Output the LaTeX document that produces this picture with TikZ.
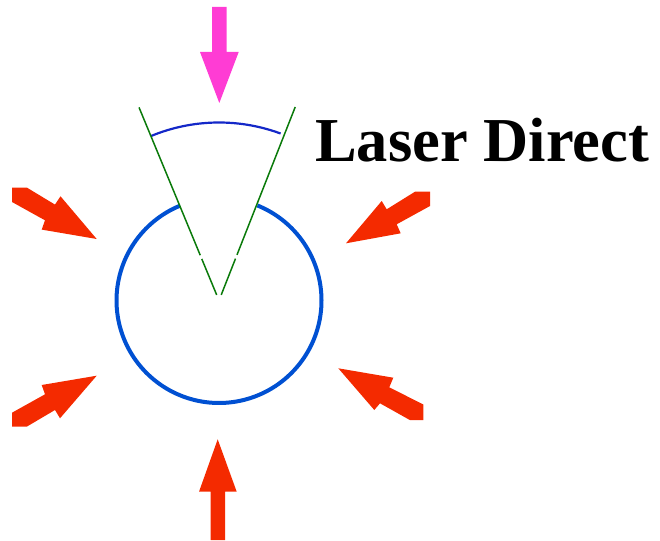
\documentclass[tikz,border=0pt]{standalone}
\usepackage{fontspec}
\setmainfont{Liberation Serif}
\usetikzlibrary{calc}
\definecolor{arrred}{RGB}{244,42,0}
\definecolor{arrmag}{RGB}{255,60,212}
\definecolor{circblue}{RGB}{0,80,210}
\definecolor{arcblue}{RGB}{20,40,200}
\definecolor{linegreen}{RGB}{10,122,10}
\tikzset{
  redarrow/.style={fill=arrred, draw=none},
  magarrow/.style={fill=arrmag, draw=none},
  ring/.style={draw=circblue, line width=4pt},
  anglearc/.style={draw=arcblue, line width=2.2pt},
  ray/.style={draw=linegreen, line width=1.5pt},
  label/.style={font=\fontsize{62.5}{62.5}\selectfont\bfseries, inner sep=0pt, anchor=base west}
}
\begin{document}
\begin{tikzpicture}[x=1pt,y=-1pt]
\useasboundingbox (0,0) rectangle (660,540);
\coordinate (c) at (219,300.5);
% circle with gap at top
\draw[ring] plot[domain=-68:247.7, samples=150, smooth] ({219+102.5*cos(\x)},{300.5+102.5*sin(\x)});
% angle arc
\draw[anglearc] plot[domain=247.4:290.3, samples=60, smooth] ({219+177.5*cos(\x)},{300+177.5*sin(\x)});
% green rays
\draw[ray] ($(c)+(-112.5:6)$) -- ($(c)+(-112.5:45)$);
\draw[ray] ($(c)+(-112.5:49)$) -- ($(c)+(-112.5:209)$);
\draw[ray] ($(c)+(-68.5:6)$) -- ($(c)+(-68.5:45)$);
\draw[ray] ($(c)+(-68.5:49)$) -- ($(c)+(-68.5:208)$);
% magenta arrow (top)
\fill[magarrow] (212,7) -- (226.7,7) -- (226.7,52) -- (238.7,52) -- (219.3,103) -- (200,52) -- (212,52) -- cycle;
% bottom arrow
\fill[redarrow] (210.7,540) -- (210.7,491.7) -- (199,491.7) -- (217.7,439.3) -- (236.7,491.7) -- (225,491.7) -- (225,540) -- cycle;
% upper left
\fill[redarrow] (12,187.5) -- (26.7,187.5) -- (55,204.6) -- (60.5,196.3) -- (96.7,239) -- (41.7,229.6) -- (45,220.3) -- (12,202) -- cycle;
% lower left
\fill[redarrow] (12,426.7) -- (26.7,426.7) -- (55,410) -- (60,418.3) -- (96.7,375.7) -- (41.7,385) -- (45,394.3) -- (12,412.7) -- cycle;
% upper right
\fill[redarrow] (346,243.3) -- (381.7,201) -- (386.7,209.3) -- (415,191.7) -- (430,191.7) -- (430,206) -- (396.7,224.3) -- (400.7,233.3) -- cycle;
% lower right
\fill[redarrow] (338.3,368.3) -- (393.3,377.7) -- (389.3,387.3) -- (423.3,404.5) -- (423.3,420) -- (409.8,420) -- (380,403.3) -- (374.3,410) -- cycle;
% label
\node[label] (title) at (315,161.7) {Laser Direct};
\end{tikzpicture}
\end{document}
